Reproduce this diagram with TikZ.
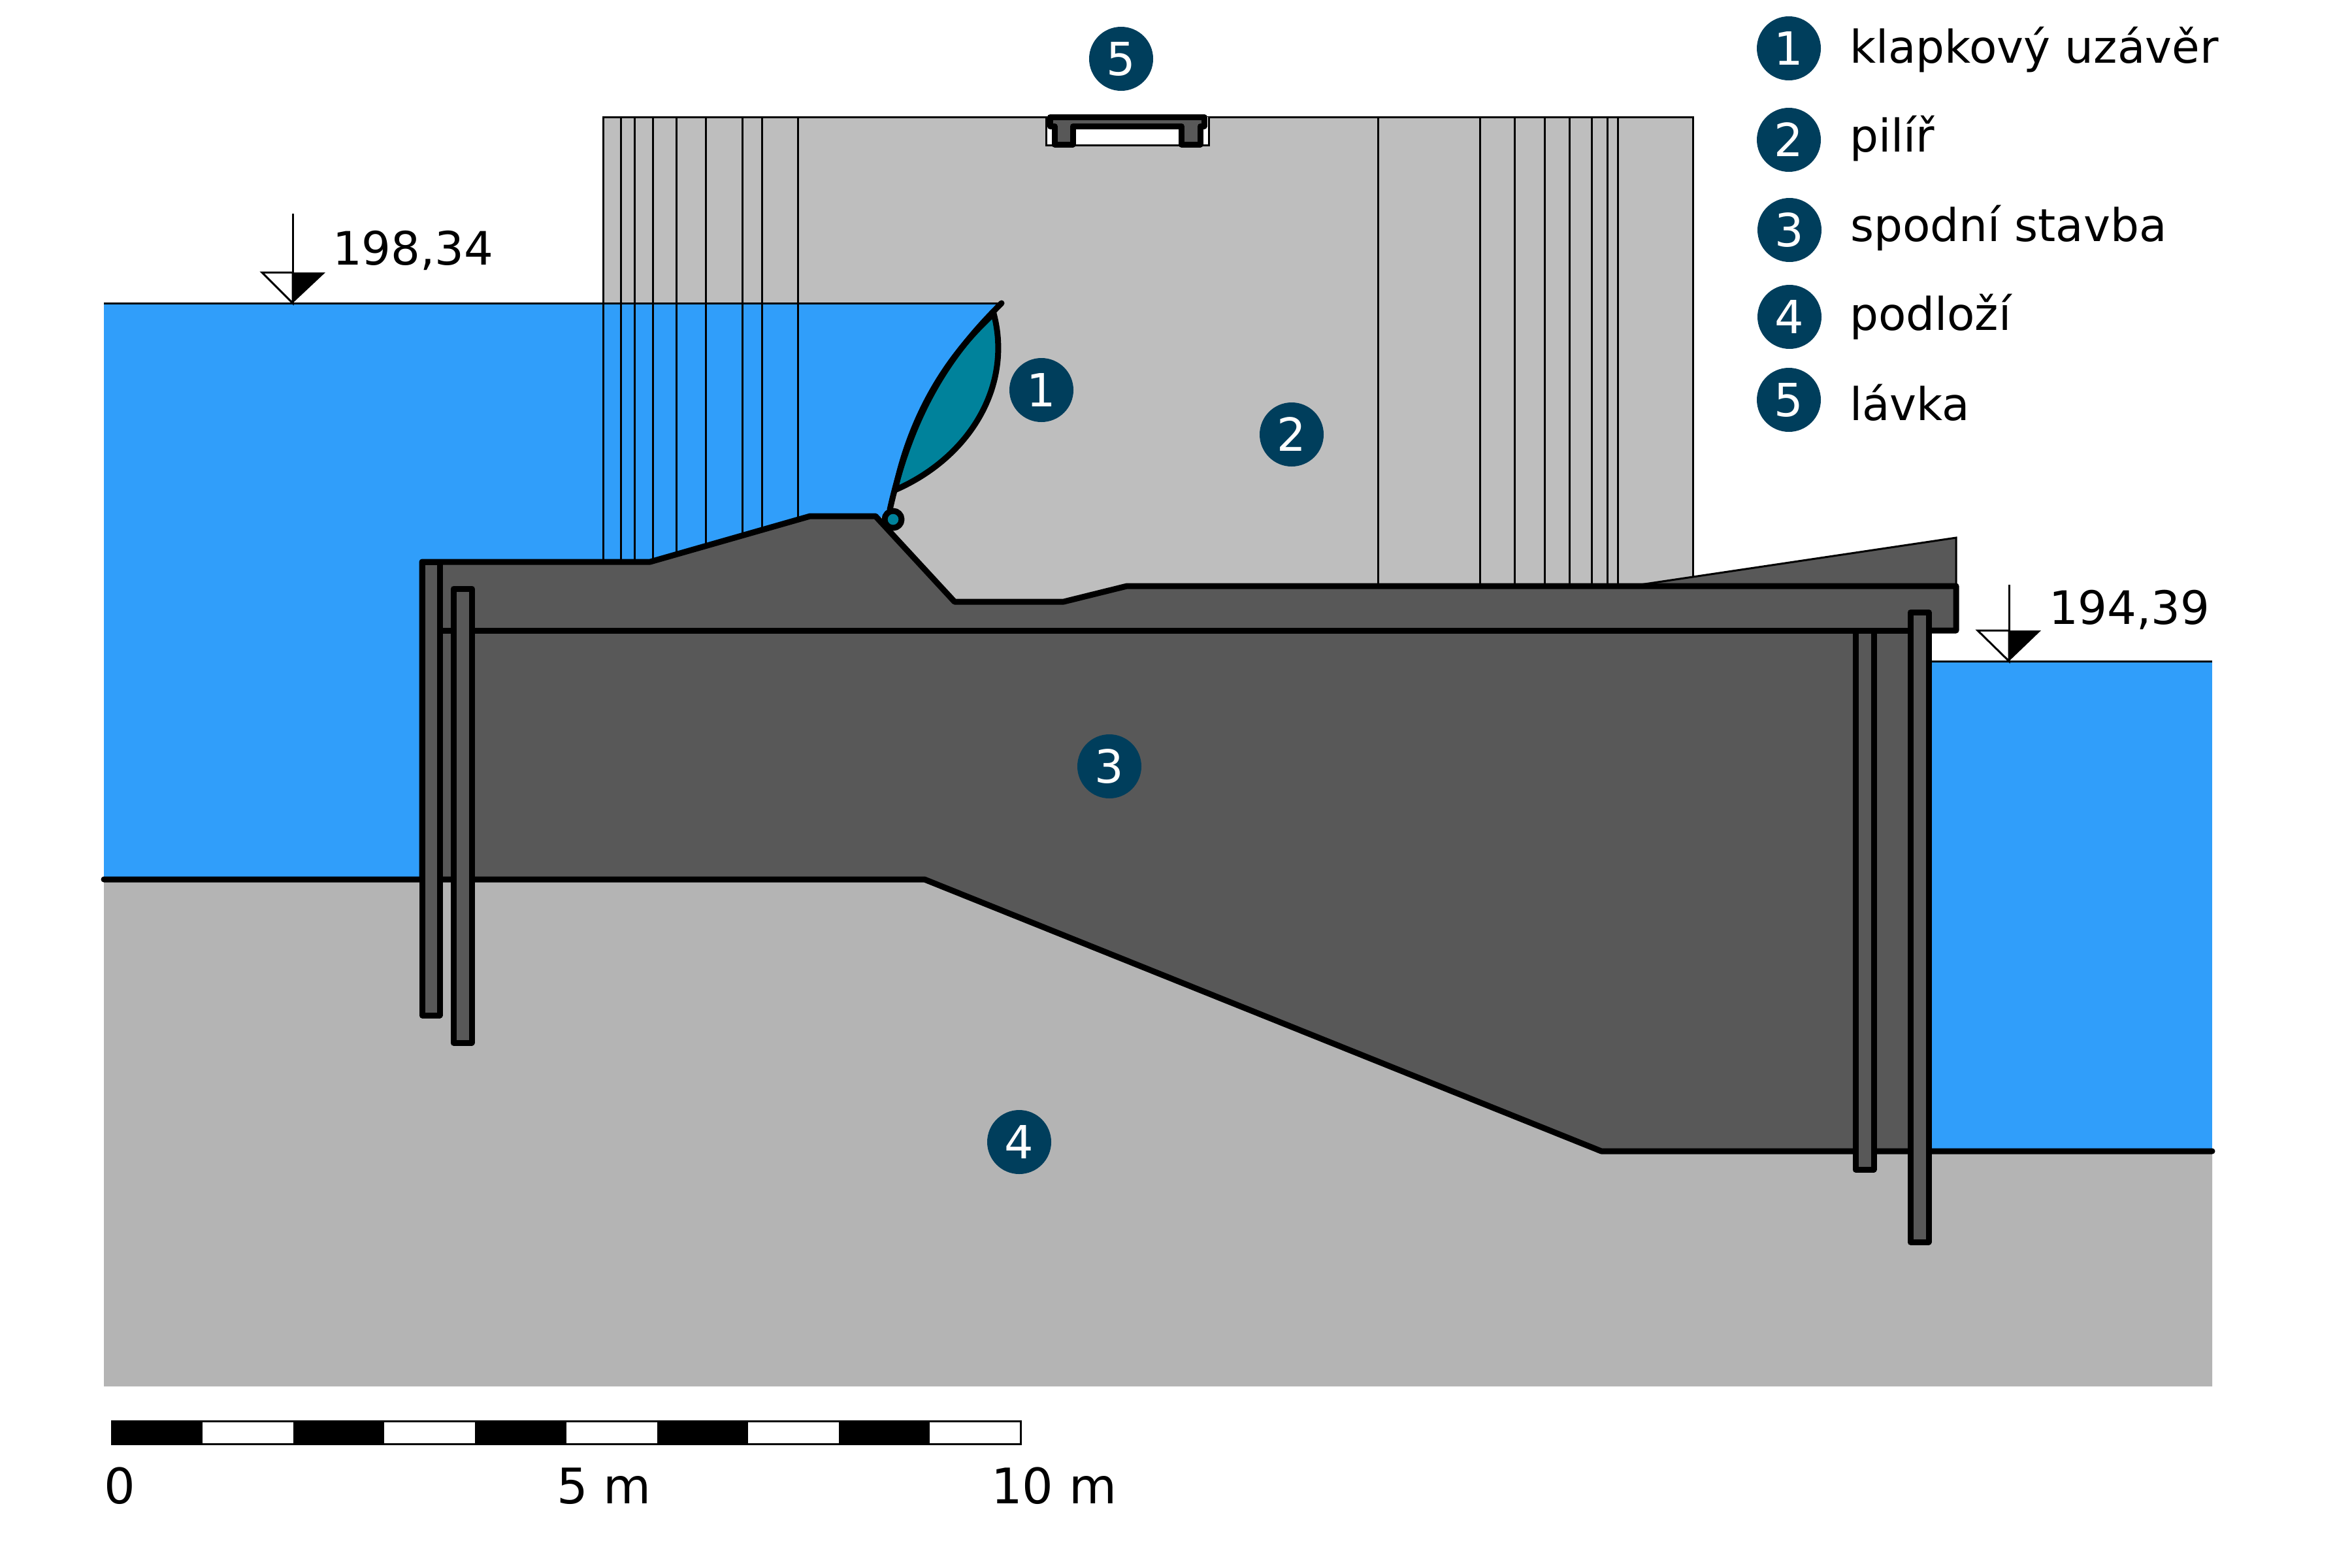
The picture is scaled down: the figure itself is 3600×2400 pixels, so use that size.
\documentclass[tikz,border=0pt]{standalone}
\usepackage{fontspec}
\setmainfont{DejaVu Sans}
\definecolor{water}{RGB}{48,158,250}
\definecolor{pier}{RGB}{190,190,190}
\definecolor{soil}{RGB}{180,180,180}
\definecolor{concrete}{RGB}{88,88,88}
\definecolor{gate}{RGB}{0,130,155}
\definecolor{badge}{RGB}{0,62,92}
\tikzset{
  heavy/.style={line width=1.8pt,line join=round,draw=black},
  light/.style={line width=0.6pt,draw=black},
  callout/.style={circle,fill=badge,text=white,inner sep=0pt,minimum size=19.6pt,font=\fontsize{14}{14}\selectfont},
  caption/.style={anchor=base west,inner sep=0pt,font=\fontsize{14.1}{14}\selectfont},
  legend/.style={anchor=base west,inner sep=0pt,font=\fontsize{13.85}{14}\selectfont},
  ruler/.style={anchor=base west,inner sep=0pt,font=\fontsize{15}{15}\selectfont},
}
\begin{document}
\begin{tikzpicture}[x=0.2pt,y=0.2pt,yscale=-1,xscale=1]
\useasboundingbox (0,0) rectangle (3600,2400);

%Shape: pier
\fill [pier] (923,179) rectangle (2591,930);
\draw [light] (923,860) -- (923,179) -- (2591,179) -- (2591,897);

%Shape: wedge beside the pier
\draw [light,fill=concrete] (2497,897) -- (2994,823) -- (2994,897) ;

%Shape: water
\fill [water] (159,1346) -- (159,464) -- (1533,464) .. controls (1470,527) and (1400,610) .. (1362,780) -- (1340,800) -- (995,880) -- (646,880) -- (646,1346) -- cycle;
\draw [light] (159,464) -- (1533,464);
\fill [water] (2952,1012) rectangle (3386,1762);
\draw [light] (2952,1012) -- (3386,1012);

%Lines on the pier
\foreach \px in {923,950,971,999,1035,1080,1136,1166,1221}
  \draw [light] (\px,179) -- (\px,880);
\foreach \px in {2109,2265,2318,2364,2402,2436,2460,2476}
  \draw [light] (\px,179) -- (\px,897);

%Shape: soil
\fill [soil] (159,1346) -- (1415,1346) -- (2451,1762) -- (3386,1762) -- (3386,2122) -- (159,2122) -- cycle;

%Shape: structure
\fill [concrete] (646,860) -- (995,860) -- (1240,790) -- (1340,790) -- (1461,921) -- (1628,921) -- (1725,897) -- (2994,897) -- (2994,965) -- (2952,965) -- (2952,1762) -- (2451,1762) -- (1415,1346) -- (646,1346) -- cycle;
\draw [heavy] (646,1346) -- (646,860) -- (995,860) -- (1240,790) -- (1340,790) -- (1461,921) -- (1628,921) -- (1725,897) -- (2994,897) -- (2994,965) -- (2952,965);
\draw [heavy] (673,860) -- (673,1346);
\draw [heavy] (646,965) -- (2952,965);
\draw [heavy,line cap=round] (159,1346) -- (1415,1346) -- (2451,1762) -- (3386,1762);

%Shape: sheet piles
\draw [heavy,fill=concrete] (646,860) rectangle (673,1554);
\draw [heavy,fill=concrete] (694,901) rectangle (722,1596);
\draw [heavy,fill=concrete] (2840,965) rectangle (2868,1790);
\draw [heavy,fill=concrete] (2924,937) rectangle (2952,1901);

%Shape: flap gate
\draw [heavy,fill=gate] (1521,480) .. controls (1550,590) and (1485,700) .. (1370,750) .. controls (1400,610) and (1470,527) .. cycle;
\draw [heavy,line cap=round] (1533,464) .. controls (1470,527) and (1400,610) .. (1362,780);
\draw [heavy,fill=gate] (1367,795) circle (13);

%Shape: footbridge
\draw [light,fill=white] (1601,179) -- (1601,222) -- (1850,222) -- (1850,179);
\draw [heavy,fill=concrete] (1607,179) -- (1843,179) -- (1843,193) -- (1837,193) -- (1837,221) -- (1808,221) -- (1808,193) -- (1642,193) -- (1642,221) -- (1614,221) -- (1614,193) -- (1607,193) -- cycle;

%Level marks
\draw [light,fill=white] (401,417) -- (448,464) -- (448,417) -- cycle;
\fill (448,417) -- (498,417) -- (448,464) -- cycle;
\draw [light] (448,327) -- (448,464);
\draw [light,fill=white] (3027,965) -- (3075,1012) -- (3075,965) -- cycle;
\fill (3075,965) -- (3124,965) -- (3075,1012) -- cycle;
\draw [light] (3075,895) -- (3075,1012);

% Text Node
\node [caption] (upper) at (508,405) {198,34};
\node [caption] (lower) at (3135,955) {194,39};

%Callouts
\node [callout] (c1) at (1594,597) {1};
\node [callout] (c2) at (1977,665) {2};
\node [callout] (c3) at (1698,1173) {3};
\node [callout] (c4) at (1560,1748) {4};
\node [callout] (c5) at (1716,90) {5};

%Legend
\node [callout] (k1) at (2738,74) {1};
\node [callout] (k2) at (2738,214) {2};
\node [callout] (k3) at (2739,352) {3};
\node [callout] (k4) at (2739,485) {4};
\node [callout] (k5) at (2738,612) {5};
\node [legend] (t1) at (2830,96) {klapkový uzávěr};
\node [legend] (t2) at (2830,232) {pilíř};
\node [legend] (t3) at (2831,369) {spodní stavba};
\node [legend] (t4) at (2830,505) {podloží};
\node [legend] (t5) at (2830,643) {lávka};

%Scale bar
\draw [light] (171,2175.5) rectangle (1562,2210.5);
\foreach \n in {0,2,4,6,8}
  \fill (171+\n*139.1,2174) rectangle (171+\n*139.1+139.1,2212);
\node [ruler] (s0) at (158,2301) {0};
\node [ruler] (s5) at (851,2301) {5 m};
\node [ruler] (s10) at (1516,2301) {10 m};
\end{tikzpicture}
\end{document}
